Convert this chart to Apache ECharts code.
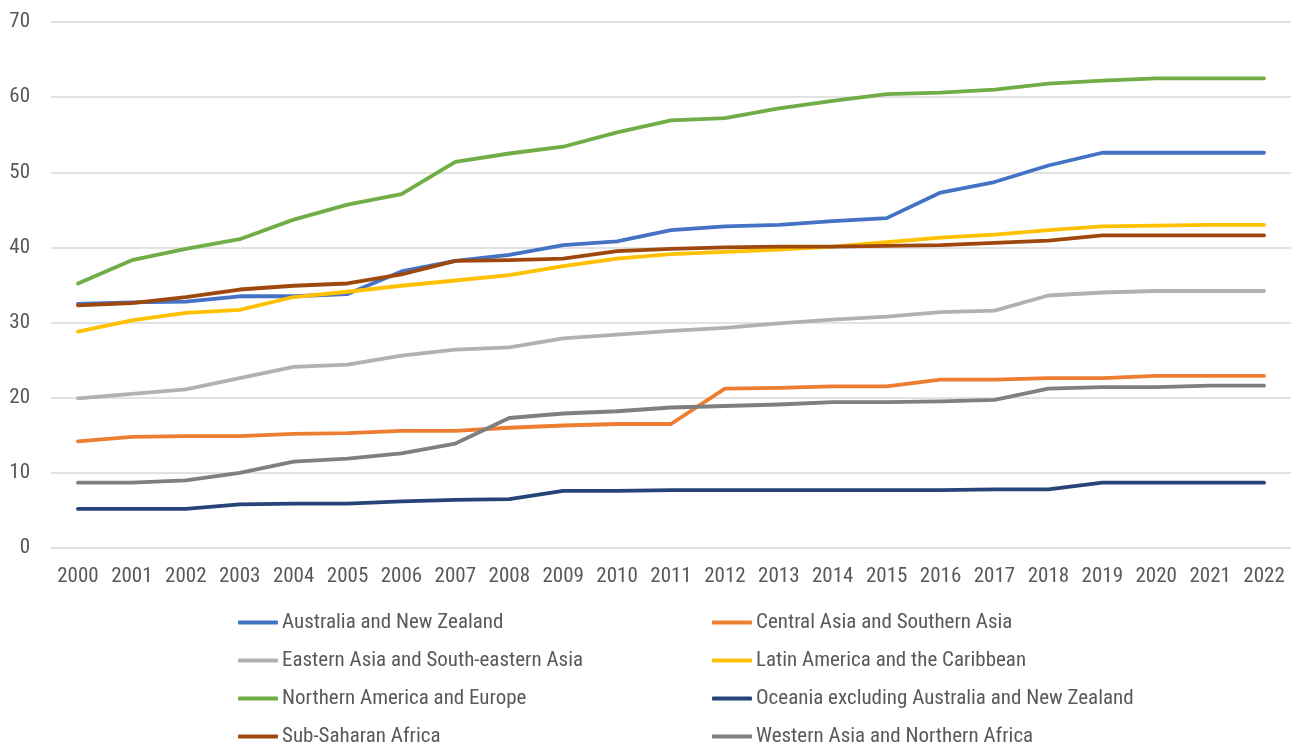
<!DOCTYPE html>
<html><head><meta charset="utf-8">
<script src="https://cdn.jsdelivr.net/npm/echarts@6/dist/echarts.min.js"></script>
<style>html,body{margin:0;padding:0;background:#fff}#c{width:1291px;height:749px}</style>
</head><body><div id="c"></div>
<script>
const years = ['2000','2001','2002','2003','2004','2005','2006','2007','2008','2009','2010','2011','2012','2013','2014','2015','2016','2017','2018','2019','2020','2021','2022'];
const yTicks = [0,10,20,30,40,50,60,70];
const australiaNZ = [32.5,32.7,32.8,33.5,33.5,33.8,36.8,38.2,39.0,40.3,40.8,42.3,42.8,43.0,43.5,43.9,47.3,48.7,50.9,52.6,52.6,52.6,52.6];
const centralSouthAsia = [14.2,14.8,14.9,14.9,15.2,15.3,15.6,15.6,16.0,16.3,16.5,16.5,21.2,21.3,21.5,21.5,22.4,22.4,22.6,22.6,22.9,22.9,22.9];
const eastSEAsia = [19.9,20.5,21.1,22.6,24.1,24.4,25.6,26.4,26.7,27.9,28.4,28.9,29.3,29.9,30.4,30.8,31.4,31.6,33.6,34.0,34.2,34.2,34.2];
const latinAmerica = [28.8,30.3,31.3,31.7,33.4,34.1,34.9,35.6,36.3,37.5,38.5,39.1,39.4,39.7,40.1,40.7,41.3,41.7,42.3,42.8,42.9,43.0,43.0];
const northAmEurope = [35.2,38.3,39.8,41.1,43.7,45.7,47.1,51.4,52.5,53.4,55.3,56.9,57.2,58.5,59.5,60.4,60.6,61.0,61.8,62.2,62.5,62.5,62.5];
const oceaniaExcl = [5.2,5.2,5.2,5.8,5.9,5.9,6.2,6.4,6.5,7.6,7.6,7.7,7.7,7.7,7.7,7.7,7.7,7.8,7.8,8.7,8.7,8.7,8.7];
const subSaharan = [32.3,32.6,33.4,34.4,34.9,35.2,36.4,38.2,38.3,38.5,39.5,39.8,40.0,40.1,40.1,40.2,40.3,40.6,40.9,41.6,41.6,41.6,41.6];
const westAsiaNAfrica = [8.7,8.7,9.0,10.0,11.5,11.9,12.6,13.9,17.3,17.9,18.2,18.7,18.9,19.1,19.4,19.4,19.5,19.7,21.2,21.4,21.4,21.6,21.6];

const names = ['Australia and New Zealand','Central Asia and Southern Asia','Eastern Asia and South-eastern Asia','Latin America and the Caribbean','Northern America and Europe','Oceania excluding Australia and New Zealand','Sub-Saharan Africa','Western Asia and Northern Africa'];
const dataSets = [australiaNZ,centralSouthAsia,eastSEAsia,latinAmerica,northAmEurope,oceaniaExcl,subSaharan,westAsiaNAfrica];
const colors = ['#4472C4','#ED7D31','#B1B1B3','#FFC000','#70AD47','#264478','#9E480E','#7F7F7F'];

const FONT = "'Liberation Sans Narrow','Roboto Condensed','DejaVu Sans Condensed',sans-serif";
const chart = echarts.init(document.getElementById('c'));
const legendBase = {
  orient:'vertical', top:612, padding:0, itemWidth:40, itemHeight:4, itemGap:17, icon:'roundRect',
  height:150,
  textStyle:{fontFamily:FONT,fontSize:21,color:'#595959',lineHeight:20,padding:[0,0,0,-1]}
};
chart.setOption({
  animation:false,
  color:colors,
  grid:{left:51,right:-6,top:22,bottom:201},
  legend:[
    Object.assign({},legendBase,{left:238,data:[names[0],names[2],names[4],names[6]]}),
    Object.assign({},legendBase,{left:712,data:[names[1],names[3],names[5],names[7]]})
  ],
  xAxis:{type:'category',data:years,boundaryGap:true,
    axisLine:{show:false},axisTick:{show:false},
    axisLabel:{fontFamily:FONT,fontSize:21,color:'#595959',margin:18,interval:0}},
  yAxis:{type:'value',min:yTicks[0],max:yTicks[yTicks.length-1],interval:10,
    axisLabel:{fontFamily:FONT,fontSize:21,color:'#595959',margin:21},
    splitLine:{lineStyle:{color:'#D9D9D9',width:1.5}}},
  series:names.map((n,i)=>({name:n,type:'line',data:dataSets[i],showSymbol:false,symbol:'none',
    lineStyle:{width:3.8,color:colors[i],cap:'round',join:'round'},itemStyle:{color:colors[i]}}))
});
</script></body></html>
